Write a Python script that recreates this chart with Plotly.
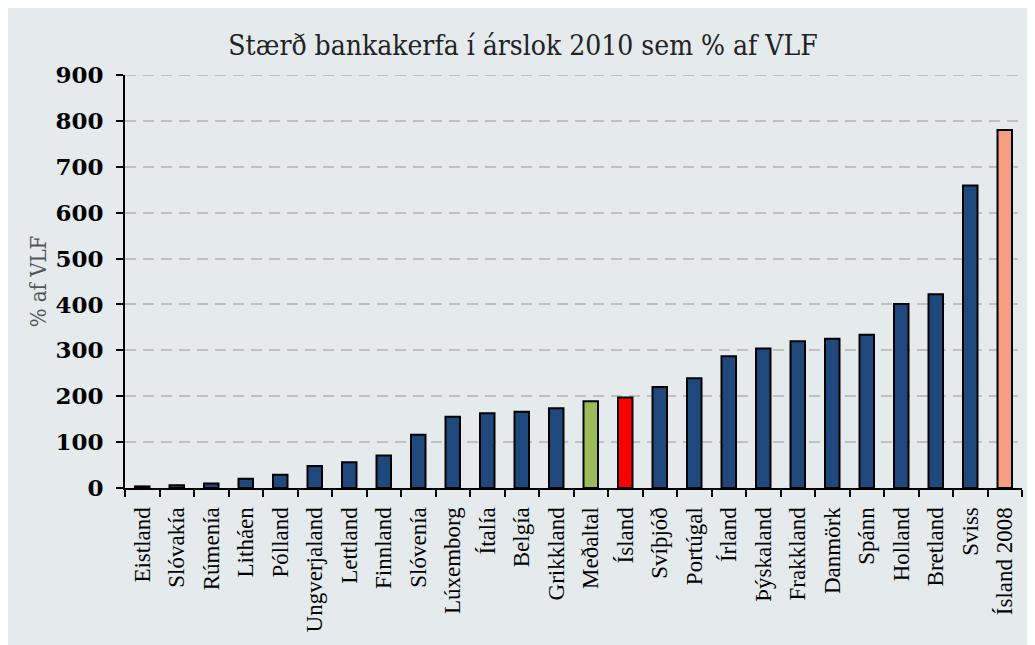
import plotly.graph_objects as go

countries = ["Eistland", "Slóvakía", "Rúmenía", "Litháen", "Pólland", "Ungverjaland", "Lettland",
             "Finnland", "Slóvenía", "Lúxemborg", "Ítalía", "Belgía", "Grikkland", "Meðaltal",
             "Ísland", "Svíþjóð", "Portúgal", "Írland", "Þýskaland", "Frakkland", "Danmörk",
             "Spánn", "Holland", "Bretland", "Sviss", "Ísland 2008"]
values = [3.5, 6, 10, 20, 29, 48, 56, 71, 116, 155, 163, 166, 174, 189, 197, 220, 239, 287,
          304, 320, 325, 334, 401, 422, 659, 780]

navy = "#1F497D"
special = {"Meðaltal": "#9BBB59", "Ísland": "#FF0000", "Ísland 2008": "#F59D7E"}
colors = [special.get(c, navy) for c in countries]

bg = "#E5EAED"
grid = "#BFBFBF"

fig = go.Figure(go.Bar(
    x=countries, y=values,
    marker=dict(color=colors, line=dict(color="black", width=2)),
))

# page has an 8px body margin, so the figure is sized/offset to compensate
fig.update_layout(
    width=1027, height=637,
    paper_bgcolor=bg, plot_bgcolor=bg,
    margin=dict(l=117, r=13, t=67, b=157),
    bargap=0.58,
    showlegend=False,
    title=dict(text="Stærð bankakerfa í árslok 2010 sem % af VLF", x=0.5015, xanchor="center",
               y=0.942, yanchor="middle",
               font=dict(family="DejaVu Serif Condensed, DejaVu Serif", size=28, color="#222222")),
    # top gridline sits on the plot edge, plotly skips it
    shapes=[dict(type="line", xref="paper", yref="y", x0=0, x1=1, y0=900, y1=900,
                 line=dict(color=grid, width=2, dash="11px,7px"), layer="below")],
)

fig.update_yaxes(
    range=[0, 900], dtick=100,
    showgrid=True, gridcolor=grid, griddash="11px,7px", gridwidth=2,
    zeroline=False,
    showline=True, linecolor="black", linewidth=2,
    ticks="outside", ticklen=7, tickwidth=2, tickcolor="black",
    ticklabelstandoff=8,
    tickfont=dict(family="DejaVu Serif", size=23, color="black", weight="bold"),
    title=dict(text="% af VLF", font=dict(family="DejaVu Serif Condensed, DejaVu Serif", size=22, color="#555555"),
               standoff=3),
)
fig.update_xaxes(
    showline=True, linecolor="black", linewidth=2,
    ticks="outside", ticklen=7, tickwidth=2, tickcolor="black", tickson="boundaries",
    tickangle=-90,
    ticklabelstandoff=8,
    tickfont=dict(family="Liberation Serif", size=23, color="black"),
)

fig.write_html("out.html")
